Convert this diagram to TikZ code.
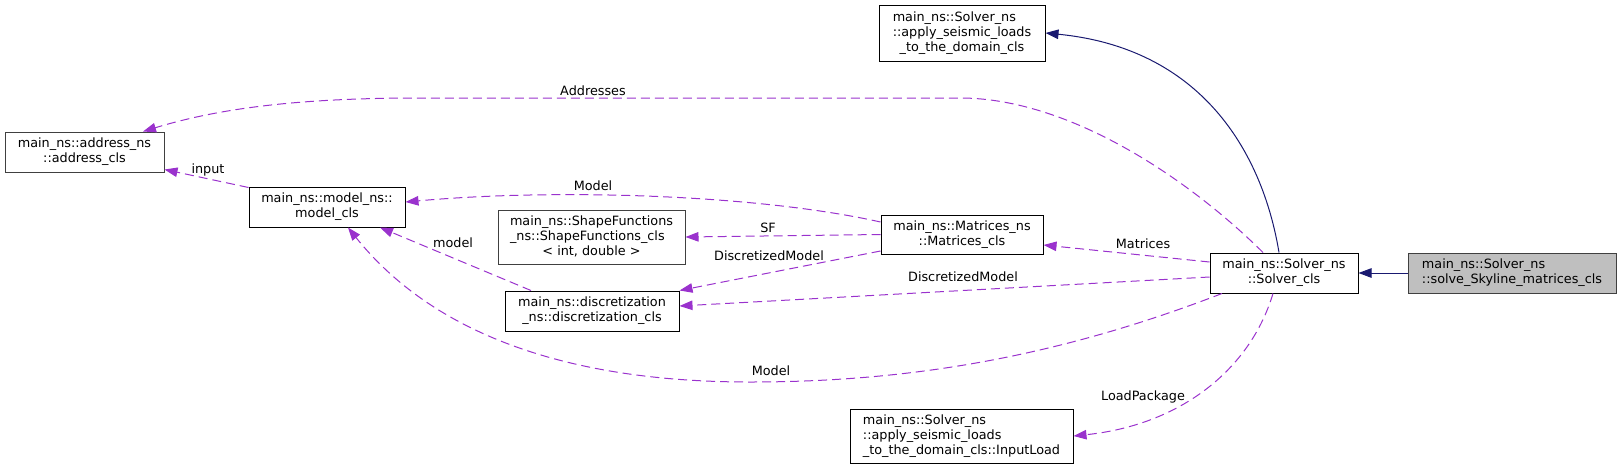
\documentclass[tikz,border=0pt]{standalone}
\usepackage{fontspec}
\setmainfont{DejaVu Sans}
\usetikzlibrary{arrows.meta}
\definecolor{depc}{HTML}{9A32CD}
\definecolor{inhc}{HTML}{191970}
\definecolor{bordc}{HTML}{404040}
\definecolor{curc}{HTML}{BFBFBF}
\newcommand\lastline[1]{\multicolumn{1}{@{}c@{}}{#1}}
\newcommand\clsbox[1]{\begin{tabular}{@{}l@{}}#1\end{tabular}}
\tikzset{
  box/.style={draw=black, line width=1pt, fill=white, inner sep=0pt, font=\fontsize{12.8}{15}\selectfont},
  graybox/.style={box, draw=bordc},
  curbox/.style={box, draw=bordc, fill=curc},
  depline/.style={draw=depc, line width=1pt, dash pattern=on 9pt off 5pt, -{Triangle[length=13pt,width=9.5pt,fill=depc]}},
  inhline/.style={draw=inhc, line width=1pt, -{Triangle[length=13pt,width=9.5pt,fill=inhc]}},
  elabel/.style={font=\fontsize{12.8}{15}\selectfont, inner sep=0pt, anchor=base},
}
\begin{document}
\begin{tikzpicture}[x=1pt,y=-1pt]
\useasboundingbox (0,0) rectangle (1621,469);

\node[box, minimum width=166pt, minimum height=56pt] (seis) at (962,33)
  {\clsbox{main\_ns::Solver\_ns\\::apply\_seismic\_loads\\\lastline{\_to\_the\_domain\_cls}}};
\node[graybox, minimum width=159pt, minimum height=40pt] (address) at (84.5,152)
  {\clsbox{main\_ns::address\_ns\\\lastline{::address\_cls}}};
\node[box, minimum width=156pt, minimum height=40pt] (model) at (327,207)
  {\clsbox{main\_ns::model\_ns::\\\lastline{model\_cls}}};
\node[graybox, minimum width=187pt, minimum height=54pt] (shape) at (591.5,237)
  {\clsbox{main\_ns::ShapeFunctions\\\_ns::ShapeFunctions\_cls\\\lastline{< int, double >}}};
\node[box, minimum width=174pt, minimum height=40pt] (discr) at (592,311)
  {\clsbox{main\_ns::discretization\\\lastline{\_ns::discretization\_cls}}};
\node[box, minimum width=162pt, minimum height=39pt] (matrices) at (962,234.5)
  {\clsbox{main\_ns::Matrices\_ns\\\lastline{::Matrices\_cls}}};
\node[box, minimum width=148pt, minimum height=40pt] (solver) at (1284,273)
  {\clsbox{main\_ns::Solver\_ns\\\lastline{::Solver\_cls}}};
\node[curbox, minimum width=208pt, minimum height=40pt] (skyline) at (1512,273)
  {\clsbox{main\_ns::Solver\_ns\\\lastline{::solve\_Skyline\_matrices\_cls}}};
\node[box, minimum width=223pt, minimum height=54pt] (inputload) at (961.5,436)
  {\clsbox{main\_ns::Solver\_ns\\::apply\_seismic\_loads\\\lastline{\_to\_the\_domain\_cls::InputLoad}}};

% inheritance
\draw[inhline] (skyline.west) -- (solver.east);
\draw[inhline] ([xshift=-5pt]solver.north) .. controls (1262,150) and (1200,48) .. (seis.east);

% usage
\draw[depline] ([xshift=-21pt]solver.north) .. controls (1190,180) and (1070,98) .. (960,98)
  -- (420,98) .. controls (300,98) and (220,108) .. ([xshift=58.5pt]address.north);
\draw[depline] ([yshift=-1pt]model.north west) -- ([yshift=3pt]address.south east);
\draw[depline] ([yshift=12.5pt]matrices.west) .. controls (760,195) and (560,188) .. ([yshift=5pt]model.east);
\draw[depline] (matrices.west) -- (shape.east);
\draw[depline] ([yshift=-16.5pt]matrices.west) -- (discr.north east);
\draw[depline] ([yshift=-4pt]solver.west) -- ([yshift=5pt]discr.east);
\draw[depline] ([yshift=11pt]solver.west) -- ([yshift=-10.5pt]matrices.east);
\draw[depline] ([xshift=-61pt]discr.north) -- ([xshift=53pt]model.south);
\draw[depline] ([xshift=-62pt]solver.south) .. controls (1050,360) and (900,382) .. (750,382)
  .. controls (560,382) and (430,330) .. ([xshift=21pt]model.south);
\draw[depline] ([xshift=-11pt]solver.south) .. controls (1250,370) and (1180,425) .. (inputload.east);

% labels
\node[elabel] (lAddresses) at (593,95) {Addresses};
\node[elabel] (linput) at (208,173) {input};
\node[elabel] (lModelTop) at (593,190) {Model};
\node[elabel] (lSF) at (768,232) {SF};
\node[elabel] (lDiscL) at (769,260) {DiscretizedModel};
\node[elabel] (lmodel) at (453,247) {model};
\node[elabel] (lMatrices) at (1143,248) {Matrices};
\node[elabel] (lDiscR) at (963,281) {DiscretizedModel};
\node[elabel] (lModelBot) at (771,375) {Model};
\node[elabel] (lLoad) at (1143,400) {LoadPackage};
\end{tikzpicture}
\end{document}
